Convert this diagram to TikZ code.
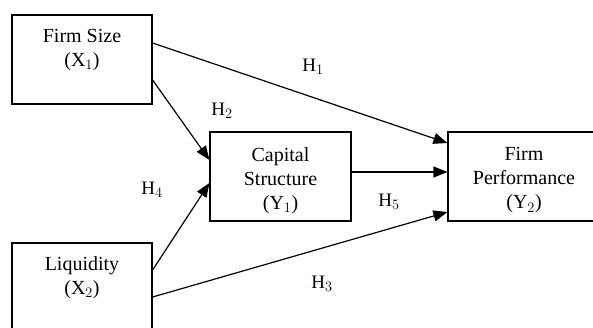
\documentclass[tikz,border=0pt]{standalone}
\usepackage{fontspec}
\setmainfont{Liberation Serif}
\usetikzlibrary{arrows.meta}

\begin{document}
\begin{tikzpicture}[x=1pt,y=-1pt]
        \tikzstyle{every node}+=[font=\fontsize{20}{24}\selectfont]
        \tikzstyle{box}=[draw=black, line width=1.2pt, minimum width=140pt, minimum height=89pt, inner sep=0pt]
        \tikzstyle{txt}=[align=center, inner sep=0pt]
        \tikzstyle{hyp}=[font=\fontsize{19}{22}\selectfont, inner sep=0pt]
        \tikzstyle{link}=[line width=1.2pt, -{Triangle[length=14pt,width=11pt]}]
        \useasboundingbox (0,0) rectangle (593,327);
        \node [box] (fs) at (82,59.5) {};
        \node [txt] (fs-t) at (fs.center) {Firm Size\\(X$_1$)\\~};
        \node [box] (liq) at (82,287.5) {};
        \node [txt] (liq-t) at (liq.center) {Liquidity\\(X$_2$)\\~};
        \node [box, minimum width=141pt] (cs) at (280.5,176.5) {};
        \node [txt] (cs-t) at ([yshift=-4pt]cs.center) {Capital\\Structure\\(Y$_1$)};
        \node [box, minimum width=152pt] (fp) at (524,176.5) {};
        \node [txt] (fp-t) at ([yshift=-4pt]fp.center) {Firm\\Performance\\(Y$_2$)};
        \draw [link] ([yshift=16.5pt]fs.east) -- ([yshift=33.5pt]fp.west);
        \draw [link] ([yshift=-20.5pt]fs.east) -- ([yshift=16.5pt]cs.west);
        \draw [link] ([yshift=17.5pt]liq.east) -- ([yshift=-6.5pt]cs.west);
        \draw [link] ([yshift=4.5pt]cs.east) -- ([yshift=4.5pt]fp.west);
        \draw [link] ([yshift=-9.5pt]liq.east) -- ([yshift=-35.5pt]fp.west);
        \node [hyp] (h1) at (313,67) {H$_1$};
        \node [hyp] (h2) at (222,111) {H$_2$};
        \node [hyp] (h4) at (152,190) {H$_4$};
        \node [hyp] (h5) at (389,202) {H$_5$};
        \node [hyp] (h3) at (322,284) {H$_3$};
\end{tikzpicture}
\end{document}
